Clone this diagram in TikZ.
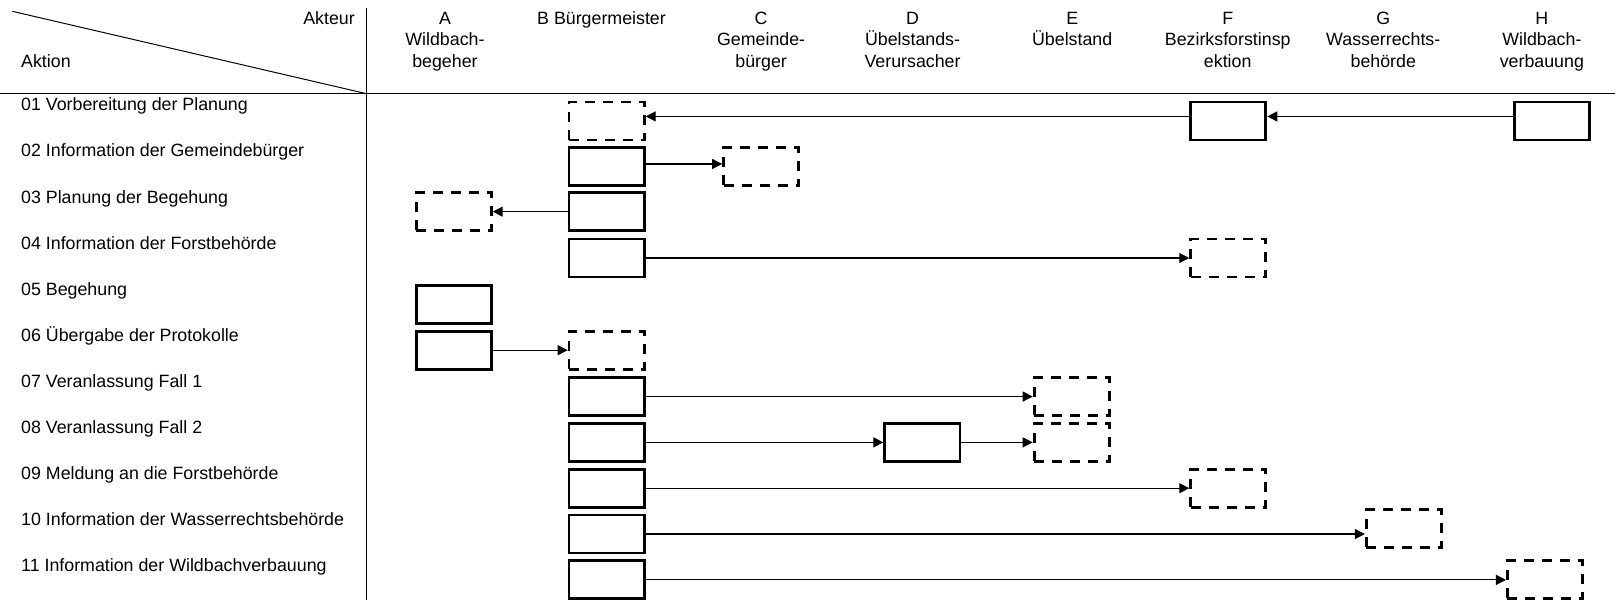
\documentclass[tikz,border=0pt]{standalone}
\usepackage{fontspec}
\setmainfont{Liberation Sans}
\usetikzlibrary{arrows.meta}
\begin{document}
\begin{tikzpicture}[x=0.515pt, y=-0.515pt, line width=0.6pt, >={Triangle[length=5pt,width=5pt]},
		act/.style = {draw, line width=1.4pt, minimum width=37.6pt, minimum height=19pt, inner sep=0pt},
		pas/.style = {act, dash pattern=on 5pt off 4pt},
		head/.style = {anchor=north, align=center, inner sep=0pt, font=\fontsize{8.9}{10.8}\selectfont},
		row/.style = {anchor=base west, inner sep=0pt, font=\fontsize{8.9}{10.8}\selectfont}]
		\useasboundingbox (0,0) rectangle (1568,582);
		\draw[line width=0.5pt] (0,91) -- (1568,91);
		\draw[line width=0.5pt] (356,8) -- (356,600);
		\draw[line width=0.5pt] (12,11) -- (356,91);
		\node[head, anchor=north east] (akteur) at (345,11) {Akteur};
		\node[row] (aktion) at (20,66) {Aktion};
		\foreach \x/\t [count=\i] in {432/{A\\Wildbach-\\begeher}, 584/{B Bürgermeister}, 739/{C\\Gemeinde-\\bürger}, 886/{D\\Übelstands-\\Verursacher}, 1041/{E\\Übelstand}, 1192/{F\\Bezirksforstinsp\\ektion}, 1343/{G\\Wasserrechts-\\behörde}, 1497/{H\\Wildbach-\\verbauung}}
			\node[head] (head\i) at (\x,11) {\t};
		\foreach \t [count=\i] in {01 Vorbereitung der Planung, 02 Information der Gemeindebürger, 03 Planung der Begehung, 04 Information der Forstbehörde, 05 Begehung, 06 Übergabe der Protokolle, 07 Veranlassung Fall 1, 08 Veranlassung Fall 2, 09 Meldung an die Forstbehörde, 10 Information der Wasserrechtsbehörde, 11 Information der Wildbachverbauung}
			\node[row] (row\i) at (20,63+44.7*\i) {\t};
		% Aktionen je Zeile
		\node[pas] (b1) at (589,117.5) {};
		\node[act] (f1) at (1192.5,117.5) {};
		\node[act] (h1) at (1507,117.5) {};
		\node[act] (b2) at (589,161.5) {};
		\node[pas] (c2) at (739,161.5) {};
		\node[act] (b3) at (589,205.5) {};
		\node[pas] (a3) at (440.5,205.5) {};
		\node[act] (b4) at (589,250.5) {};
		\node[pas] (f4) at (1192.5,250.5) {};
		\node[act] (a5) at (440.5,296) {};
		\node[act] (a6) at (440.5,340) {};
		\node[pas] (b6) at (589,340) {};
		\node[act] (b7) at (589,385) {};
		\node[pas] (e7) at (1040.5,385) {};
		\node[act] (b8) at (589,429.5) {};
		\node[act] (d8) at (895.5,429.5) {};
		\node[pas] (e8) at (1040.5,429.5) {};
		\node[act] (b9) at (589,474) {};
		\node[pas] (f9) at (1192.5,474) {};
		\node[act] (b10) at (589,518.5) {};
		\node[pas] (g10) at (1363,513) {};
		\node[act] (b11) at (589,563) {};
		\node[pas] (h11) at (1500,563) {};
		% Verbindungen
		\draw[->] ([yshift=2.3pt]h1.west) to ([yshift=2.3pt]f1.east);
		\draw[->] ([yshift=2.3pt]f1.west) to ([yshift=2.3pt]b1.east);
		\draw[->] ([yshift=1.2pt]b2.east) to ([yshift=1.2pt]c2.west);
		\draw[->] (b3) to (a3);
		\draw[->] (b4) to (f4);
		\draw[->] (a6) to (b6);
		\draw[->] (b7) to (e7);
		\draw[->] (b8) to (d8);
		\draw[->] (d8) to (e8);
		\draw[->] (b9) to (f9);
		\draw[->] (b10.east) to (b10.east -| g10.west);
		\draw[->] (b11) to (h11);

	\end{tikzpicture}
\end{document}
